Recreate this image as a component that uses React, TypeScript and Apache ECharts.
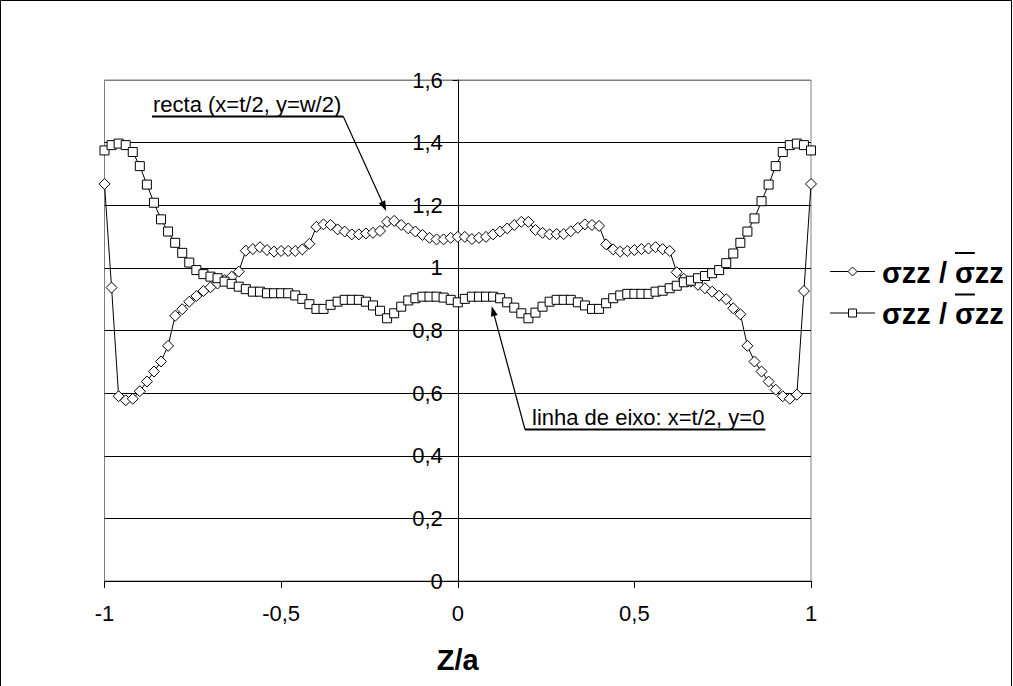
import React, { useEffect, useRef } from "react";
import * as echarts from "echarts";

const zValues = [
  -1, -0.98, -0.96, -0.94, -0.92, -0.9, -0.88, -0.86, -0.84, -0.82,
  -0.8, -0.78, -0.76, -0.74, -0.72, -0.7, -0.68, -0.66, -0.64, -0.62,
  -0.6, -0.58, -0.56, -0.54, -0.52, -0.5, -0.48, -0.46, -0.44, -0.42,
  -0.4, -0.38, -0.36, -0.34, -0.32, -0.3, -0.28, -0.26, -0.24, -0.22,
  -0.2, -0.18, -0.16, -0.14, -0.12, -0.1, -0.08, -0.06, -0.04, -0.02,
  0,
  0.02, 0.04, 0.06, 0.08, 0.1, 0.12, 0.14, 0.16, 0.18, 0.2,
  0.22, 0.24, 0.26, 0.28, 0.3, 0.32, 0.34, 0.36, 0.38, 0.4,
  0.42, 0.44, 0.46, 0.48, 0.5, 0.52, 0.54, 0.56, 0.58, 0.6,
  0.62, 0.64, 0.66, 0.68, 0.7, 0.72, 0.74, 0.76, 0.78, 0.8,
  0.82, 0.84, 0.86, 0.88, 0.9, 0.92, 0.94, 0.96, 0.98, 1,
];

// recta (x=t/2, y=w/2) — diamonds
const sigmaRecta = [
  1.268, 0.937, 0.59, 0.577, 0.582, 0.606, 0.637, 0.669, 0.701, 0.751,
  0.847, 0.868, 0.892, 0.91, 0.926, 0.938, 0.95, 0.961, 0.972, 0.988,
  1.055, 1.06, 1.066, 1.057, 1.052, 1.054, 1.054, 1.054, 1.059, 1.077,
  1.131, 1.139, 1.137, 1.123, 1.116, 1.107, 1.107, 1.11, 1.112, 1.118,
  1.147, 1.15, 1.137, 1.126, 1.116, 1.105, 1.096, 1.091, 1.091, 1.096,
  1.099,
  1.099, 1.092, 1.096, 1.099, 1.107, 1.116, 1.126, 1.137, 1.147, 1.147,
  1.121, 1.112, 1.107, 1.108, 1.108, 1.117, 1.128, 1.139, 1.137, 1.134,
  1.075, 1.059, 1.052, 1.054, 1.057, 1.06, 1.062, 1.066, 1.06, 1.054,
  0.986, 0.965, 0.956, 0.946, 0.935, 0.924, 0.911, 0.9, 0.871, 0.852,
  0.751, 0.701, 0.669, 0.637, 0.611, 0.59, 0.582, 0.595, 0.926, 1.268,
];

// linha de eixo (x=t/2, y=0) — squares
const sigmaEixo = [
  1.375, 1.392, 1.397, 1.392, 1.37, 1.325, 1.266, 1.208, 1.155, 1.116,
  1.08, 1.048, 1.017, 0.993, 0.98, 0.972, 0.967, 0.956, 0.949, 0.94,
  0.932, 0.924, 0.924, 0.919, 0.919, 0.919, 0.919, 0.912, 0.901, 0.884,
  0.869, 0.869, 0.882, 0.892, 0.898, 0.898, 0.898, 0.892, 0.88, 0.863,
  0.839, 0.855, 0.876, 0.896, 0.903, 0.908, 0.908, 0.908, 0.905, 0.898,
  0.89,
  0.901, 0.908, 0.908, 0.908, 0.908, 0.903, 0.89, 0.873, 0.855, 0.839,
  0.857, 0.876, 0.892, 0.898, 0.898, 0.898, 0.89, 0.88, 0.869, 0.869,
  0.887, 0.903, 0.912, 0.917, 0.917, 0.917, 0.917, 0.924, 0.927, 0.935,
  0.943, 0.954, 0.959, 0.967, 0.974, 0.983, 0.993, 1.015, 1.046, 1.08,
  1.116, 1.158, 1.213, 1.266, 1.325, 1.37, 1.392, 1.397, 1.392, 1.375,
];

const legendHead = "σzz / ";
const legendSigma = "σ";
const legendLabel = "σzz / σzz";
const annotRecta = "recta (x=t/2, y=w/2)";
const annotEixo = "linha de eixo: x=t/2, y=0";
const xAxisName = "Z/a";
const rectaArrowIndex = 41;
const eixoArrowIndex = 55;

const FONT = 'Arial, "Liberation Sans", sans-serif';

const GRID_LEFT = 104.5;
const GRID_RIGHT = 202;
const CHART_W = 1013;
const CHART_H = 686;

function fmt(v: number): string {
  const r = Math.round(v * 100) / 100;
  return String(r).replace(".", ",");
}

function arrow(sx: number, sy: number, tx: number, ty: number) {
  const dx = tx - sx;
  const dy = ty - sy;
  const len = Math.sqrt(dx * dx + dy * dy);
  const ux = dx / len;
  const uy = dy / len;
  const L = 10;
  const W = 3.5;
  const bx = tx - ux * L;
  const by = ty - uy * L;
  return [
    {
      type: "line",
      z: 100,
      shape: { x1: sx, y1: sy, x2: bx, y2: by },
      style: { stroke: "#000", lineWidth: 1.2 },
    },
    {
      type: "polygon",
      z: 100,
      shape: {
        points: [
          [tx, ty],
          [bx - uy * W, by + ux * W],
          [bx + uy * W, by - ux * W],
        ],
      },
      style: { fill: "#000" },
    },
  ];
}

export default function App() {
  const ref = useRef<HTMLDivElement>(null);
  useEffect(() => {
    document.body.style.margin = "0";
    const chart = echarts.init(ref.current!, null, { renderer: "svg" });
    const recta = zValues.map((z, i) => [z, sigmaRecta[i]]);
    const eixo = zValues.map((z, i) => [z, sigmaEixo[i]]);
    const yColors = ["#000", "#000", "#000", "#000", "#000", "#000", "#000", "#000", "#808080"];
    const gridW = CHART_W - GRID_LEFT - GRID_RIGHT;
    chart.setOption({
      animation: false,
      backgroundColor: "#fff",
      grid: {
        left: GRID_LEFT,
        right: GRID_RIGHT,
        top: 80,
        bottom: 105,
        show: true,
        borderColor: "#808080",
        borderWidth: 1,
      },
      xAxis: {
        type: "value",
        min: -1,
        max: 1,
        interval: 0.5,
        axisLine: { lineStyle: { color: "#000", width: 1 } },
        axisTick: { length: 7, lineStyle: { color: "#000" } },
        axisLabel: { formatter: fmt, fontSize: 22, fontFamily: FONT, color: "#000", margin: 21 },
        splitLine: { show: false },
        name: xAxisName,
        nameLocation: "middle",
        nameGap: 64,
        nameTextStyle: { fontSize: 29, fontWeight: "bold", fontFamily: FONT, color: "#000" },
      },
      yAxis: {
        type: "value",
        min: 0,
        max: 1.6,
        interval: 0.2,
        position: "left",
        offset: -gridW / 2,
        axisLine: { show: true, onZero: false, lineStyle: { color: "#000", width: 1 } },
        axisTick: { show: true, length: 5, lineStyle: { color: "#000" } },
        axisLabel: { formatter: fmt, fontSize: 22, fontFamily: FONT, color: "#000", margin: 15 },
        splitLine: { show: true, lineStyle: { color: yColors, width: 1 } },
      },
      series: [
        {
          name: "recta",
          type: "line",
          data: recta,
          symbol: "diamond",
          symbolSize: 11,
          showAllSymbol: true,
          lineStyle: { color: "#000", width: 1 },
          itemStyle: { color: "#fff", borderColor: "#000", borderWidth: 1 },
          z: 3,
        },
        {
          name: "eixo",
          type: "line",
          data: eixo,
          symbol: "rect",
          symbolSize: 9,
          showAllSymbol: true,
          lineStyle: { color: "#000", width: 1 },
          itemStyle: { color: "#fff", borderColor: "#000", borderWidth: 1 },
          z: 4,
        },
      ],
    });

    const ctx = document.createElement("canvas").getContext("2d")!;
    const legendFont = `bold 29px ${FONT}`;
    ctx.font = legendFont;
    const headW = ctx.measureText(legendHead).width;
    const sigW = ctx.measureText(legendSigma).width;
    ctx.font = `22px ${FONT}`;
    const rectaW = ctx.measureText(annotRecta).width;
    const eixoW = ctx.measureText(annotEixo).width;

    const pR = chart.convertToPixel({ gridIndex: 0 }, [zValues[rectaArrowIndex], sigmaRecta[rectaArrowIndex]]) as number[];
    const pE = chart.convertToPixel({ gridIndex: 0 }, [zValues[eixoArrowIndex], sigmaEixo[eixoArrowIndex]]) as number[];

    const legendRows = [
      { y: 271.5, marker: "diamond" },
      { y: 313, marker: "square" },
    ];
    const textX = 882;
    const graphics: any[] = [
      {
        type: "rect",
        z: 100,
        shape: { x: 0.5, y: 0.5, width: 1011, height: CHART_H + 20 },
        style: { fill: "none", stroke: "#000", lineWidth: 1 },
      },
    ];
    legendRows.forEach((row) => {
      graphics.push({
        type: "line",
        z: 100,
        shape: { x1: 830, y1: row.y, x2: 875, y2: row.y },
        style: { stroke: "#000", lineWidth: 1 },
      });
      if (row.marker === "diamond") {
        graphics.push({
          type: "polygon",
          z: 101,
          shape: { points: [[852.5, row.y - 4.5], [857, row.y], [852.5, row.y + 4.5], [848, row.y]] },
          style: { fill: "#fff", stroke: "#000", lineWidth: 1 },
        });
      } else {
        graphics.push({
          type: "rect",
          z: 101,
          shape: { x: 848.5, y: row.y - 4, width: 8, height: 8 },
          style: { fill: "#fff", stroke: "#000", lineWidth: 1 },
        });
      }
      graphics.push({
        type: "text",
        z: 100,
        x: textX,
        y: row.y + 1,
        style: {
          text: legendLabel,
          font: legendFont,
          fill: "#000",
          textAlign: "left",
          textVerticalAlign: "middle",
        },
      });
      graphics.push({
        type: "line",
        z: 100,
        shape: { x1: textX + headW, y1: row.y - 18.5, x2: textX + headW + sigW, y2: row.y - 18.5 },
        style: { stroke: "#000", lineWidth: 2 },
      });
    });

    // annotation: recta
    graphics.push({
      type: "text",
      z: 100,
      x: 153,
      y: 104,
      style: { text: annotRecta, font: `22px ${FONT}`, fill: "#000", textAlign: "left", textVerticalAlign: "middle" },
    });
    graphics.push({
      type: "line",
      z: 100,
      shape: { x1: 152, y1: 116.5, x2: 153 + rectaW + 2, y2: 116.5 },
      style: { stroke: "#000", lineWidth: 2 },
    });
    graphics.push(...arrow(153 + rectaW + 2, 116.5, pR[0] - 8, pR[1] - 10));

    // annotation: linha de eixo
    graphics.push({
      type: "text",
      z: 100,
      x: 532,
      y: 417,
      style: { text: annotEixo, font: `22px ${FONT}`, fill: "#000", textAlign: "left", textVerticalAlign: "middle" },
    });
    graphics.push({
      type: "line",
      z: 100,
      shape: { x1: 525, y1: 429.5, x2: 532 + eixoW + 1, y2: 429.5 },
      style: { stroke: "#000", lineWidth: 2 },
    });
    graphics.push(...arrow(525, 429.5, pE[0] - 1.3, pE[1] + 9.5));

    chart.setOption({ graphic: graphics });

    return () => chart.dispose();
  }, []);
  return <div ref={ref} style={{ width: CHART_W, height: CHART_H }} />;
}
